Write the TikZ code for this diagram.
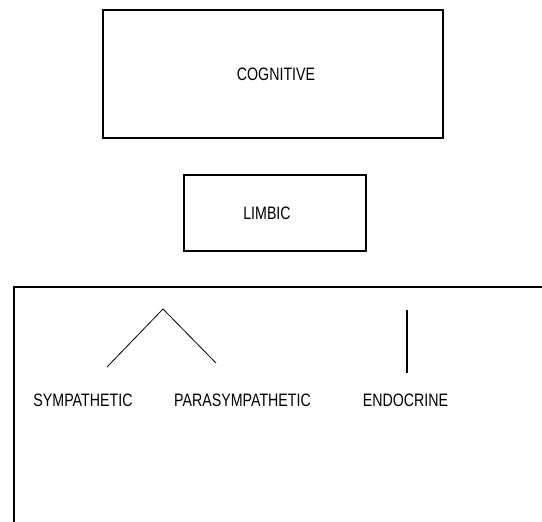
\documentclass[tikz,border=0pt]{standalone}
\usepackage{fontspec}
\setmainfont[FakeStretch=0.79]{Liberation Sans}
\usepackage{tikz}

\begin{document}
\begin{tikzpicture}[x=1pt, y=-1pt, every node/.style={font=\fontsize{18}{21}\selectfont, inner sep=0pt},
	levelbox/.style={draw, line width=1.4pt}]
	\useasboundingbox (0,0) rectangle (542,522);
	% upper levels
	\node[levelbox, minimum width=340, minimum height=128] (cognitive) at (273,74) {\hspace*{6pt}COGNITIVE};
	\node[levelbox, minimum width=182, minimum height=76] (limbic) at (275,213) {LIMBIC\hspace*{16pt}};
	% lower level, open to the right and below
	\draw[line width=1.4pt] (14,522) -- (14,287) -- (542,287);
	\node (sym) at (83,400) {SYMPATHETIC};
	\node (para) at (242.5,400) {PARASYMPATHETIC};
	\node (endo) at (405.5,400) {ENDOCRINE};
	\coordinate (apex) at (163,309);
	\coordinate (symtop) at (107,367); \coordinate (paratop) at (216,363);
	\coordinate (endotop) at (407,310); \coordinate (endobot) at (407,373);
	\draw[line width=0.8pt] (symtop) -- (apex) -- (paratop);
	\draw[line width=1.4pt] (endotop) -- (endobot);
\end{tikzpicture}
\end{document}
